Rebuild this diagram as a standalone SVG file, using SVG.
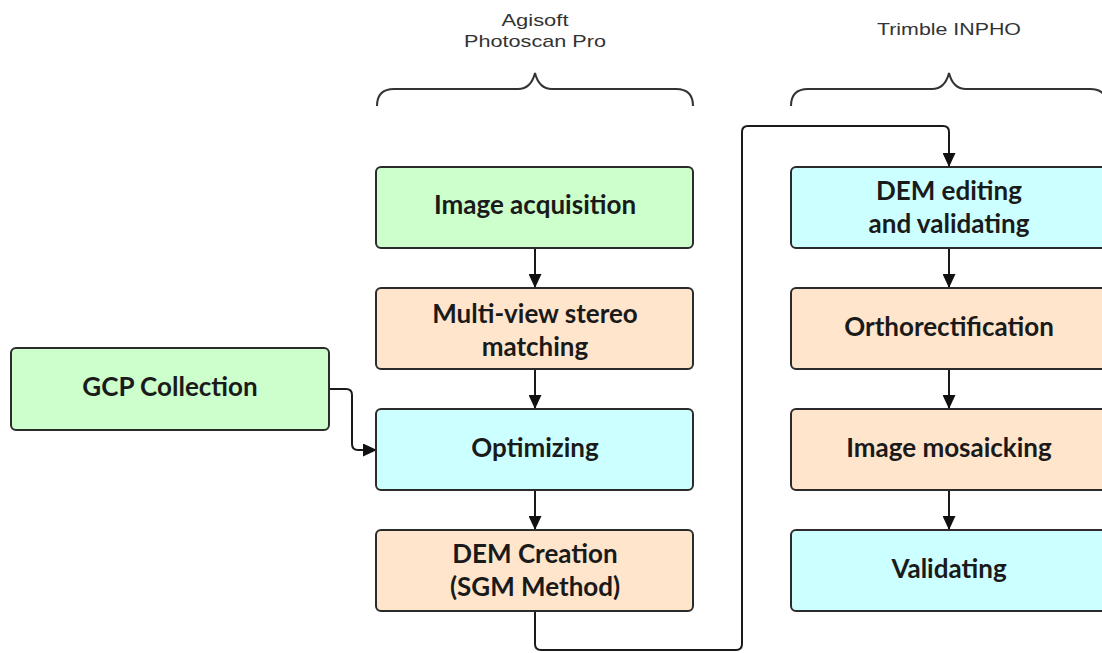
<svg xmlns="http://www.w3.org/2000/svg" width="1102" height="653" viewBox="0 0 1102 653">
  <style>
    .box { stroke: #2b2b2b; stroke-width: 2; }
    .green { fill: #ccffcc; }
    .peach { fill: #ffe5cc; }
    .cyan { fill: #ccffff; }
    .label { font-family: Lato, "Open Sans", sans-serif; font-weight: 700; font-size: 26px; fill: #1a1a1a; text-anchor: middle; }
    .head { font-family: "Liberation Sans", Arial, sans-serif; font-size: 17px; fill: #333; text-anchor: middle; }
    .brace { fill: none; stroke: #333; stroke-width: 2; }
    .link { fill: none; stroke: #1a1a1a; stroke-width: 2; marker-end: url(#arrow); }
  </style>
  <defs>
    <marker id="arrow" markerUnits="userSpaceOnUse" markerWidth="15" markerHeight="13" refX="14" refY="6.5" orient="auto">
      <path d="M0,0 L14,6.5 L0,13 z" fill="#111"/>
    </marker>
  </defs>
  <rect width="1102" height="653" fill="#fff"/>

  <!-- tool headings with braces -->
  <g id="heading-photoscan">
    <text class="head" x="535" y="26" textLength="67" lengthAdjust="spacingAndGlyphs">Agisoft</text>
    <text class="head" x="535" y="47" textLength="142" lengthAdjust="spacingAndGlyphs">Photoscan Pro</text>
    <path class="brace" d="M377,106 Q377,89 394,89 L518,89 Q531,89 535,73 Q539,89 552,89 L676,89 Q693,89 693,106"/>
  </g>
  <g id="heading-inpho">
    <text class="head" x="949" y="35" textLength="144" lengthAdjust="spacingAndGlyphs">Trimble INPHO</text>
    <path class="brace" d="M791,106 Q791,89 808,89 L932,89 Q945,89 949,73 Q953,89 966,89 L1090,89 Q1107,89 1107,106"/>
  </g>

  <!-- connectors -->
  <g id="connectors">
    <path class="link" d="M535,248 L535,288"/>
    <path class="link" d="M535,369 L535,409"/>
    <path class="link" d="M535,490 L535,530"/>
    <path class="link" d="M329,389 L346,389 Q352,389 352,395 L352,444 Q352,450 358,450 L377,450"/>
    <path class="link" d="M535,611 L535,644 Q535,650 541,650 L736,650 Q742,650 742,644 L742,132 Q742,126 748,126 L943,126 Q949,126 949,132 L949,167"/>
    <path class="link" d="M949,248 L949,288"/>
    <path class="link" d="M949,369 L949,409"/>
    <path class="link" d="M949,490 L949,530"/>
  </g>

  <!-- left column -->
  <g id="image-acquisition">
    <rect class="box green" x="376" y="167" width="317" height="81" rx="5"/>
    <text class="label" x="535" y="214">Image acquisition</text>
  </g>
  <g id="multi-view-stereo">
    <rect class="box peach" x="376" y="288" width="317" height="81" rx="5"/>
    <text class="label" x="535" y="323">Multi-view stereo</text>
    <text class="label" x="535" y="356">matching</text>
  </g>
  <g id="optimizing">
    <rect class="box cyan" x="376" y="409" width="317" height="81" rx="5"/>
    <text class="label" x="535" y="457">Optimizing</text>
  </g>
  <g id="dem-creation">
    <rect class="box peach" x="376" y="530" width="317" height="81" rx="5"/>
    <text class="label" x="535" y="563">DEM Creation</text>
    <text class="label" x="535" y="596">(SGM Method)</text>
  </g>

  <!-- ground control input -->
  <g id="gcp-collection">
    <rect class="box green" x="11" y="348" width="318" height="82" rx="5"/>
    <text class="label" x="170" y="396">GCP Collection</text>
  </g>

  <!-- right column -->
  <g id="dem-editing">
    <rect class="box cyan" x="791" y="167" width="317" height="81" rx="5"/>
    <text class="label" x="949" y="200">DEM editing</text>
    <text class="label" x="949" y="233">and validating</text>
  </g>
  <g id="orthorectification">
    <rect class="box peach" x="791" y="288" width="317" height="81" rx="5"/>
    <text class="label" x="949" y="336">Orthorectification</text>
  </g>
  <g id="image-mosaicking">
    <rect class="box peach" x="791" y="409" width="317" height="81" rx="5"/>
    <text class="label" x="949" y="457">Image mosaicking</text>
  </g>
  <g id="validating">
    <rect class="box cyan" x="791" y="530" width="317" height="81" rx="5"/>
    <text class="label" x="949" y="578">Validating</text>
  </g>
</svg>
